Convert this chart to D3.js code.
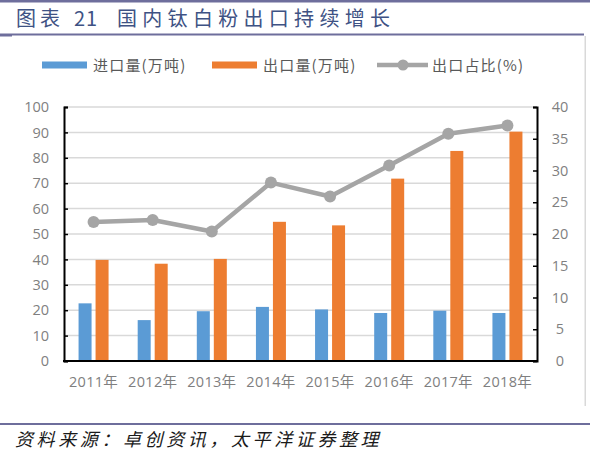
<!DOCTYPE html>
<html><head><meta charset="utf-8">
<script src="https://cdn.jsdelivr.net/npm/d3@7/dist/d3.min.js"></script>
<style>
html,body{margin:0;padding:0;background:#fff;}
svg{display:block;}
</style></head>
<body>
<svg id="c" width="594" height="453"></svg>
<script>
const categories = ["2011年","2012年","2013年","2014年","2015年","2016年","2017年","2018年"];
const importVol = [22.7,16.1,19.6,21.3,20.3,18.9,19.8,18.9];
const exportVol = [39.8,38.3,40.2,54.8,53.4,71.8,82.7,90.3];
const exportShare = [21.9,22.2,20.4,28.1,25.9,30.8,35.8,37.1];
const leftTicks = [0,10,20,30,40,50,60,70,80,90,100];
const rightTicks = [0,5,10,15,20,25,30,35,40];
const seriesNames = ["进口量(万吨)","出口量(万吨)","出口占比(%)"];
const titleParts = ["图表","21","国内钛白粉出口持续增长"];
const sourceText = "资料来源：卓创资讯，太平洋证券整理";

const svg = d3.select("#c");
const frame = "#6e6e9c";
const m = {l:64, r:537, t:107, b:361};

// frame lines
svg.append("rect").attr("x",0).attr("y",0).attr("width",590).attr("height",2.5).attr("fill",frame);
svg.append("rect").attr("x",0).attr("y",33.5).attr("width",584).attr("height",2).attr("fill",frame);
svg.append("rect").attr("x",0).attr("y",35).attr("width",12).attr("height",1.5).attr("fill",frame);
svg.append("rect").attr("x",584.5).attr("y",36).attr("width",1.5).attr("height",370).attr("fill","#d9d9d9");
svg.append("rect").attr("x",0).attr("y",423).attr("width",590).attr("height",2).attr("fill",frame);

const tg = svg.append("text").attr("y",25.5).attr("font-family","'Noto Sans CJK SC'")
  .attr("font-size",20).attr("fill","#3e5284").attr("letter-spacing",5.3);
tg.append("tspan").attr("x",16).attr("letter-spacing",4).text(titleParts[0]);
tg.append("tspan").attr("x",74).attr("letter-spacing",1).text(titleParts[1]);
tg.append("tspan").attr("x",117).text(titleParts[2]);

svg.append("text").attr("x",15).attr("y",446).attr("font-family","'Noto Sans CJK SC'")
  .attr("font-size",18).attr("font-style","italic").attr("letter-spacing",3.6)
  .attr("fill","#1a1a1a").text(sourceText);

const x = d3.scaleBand().domain(categories).range([m.l,m.r]).paddingInner(0).paddingOuter(0);
const yL = d3.scaleLinear().domain([0,100]).range([m.b,m.t]);
const yR = d3.scaleLinear().domain([0,40]).range([m.b,m.t]);

// grid
svg.append("g").selectAll("line").data(leftTicks.filter(d=>d>0)).join("line")
  .attr("x1",m.l).attr("x2",m.r).attr("y1",d=>yL(d)).attr("y2",d=>yL(d))
  .attr("stroke","#d9d9d9").attr("stroke-width",1.5);

const bw = 13, gap = 4;
svg.append("g").selectAll("rect").data(categories).join("rect")
  .attr("x",d=>x(d)+x.bandwidth()/2 - gap/2 - bw).attr("width",bw)
  .attr("y",(d,i)=>yL(importVol[i])).attr("height",(d,i)=>yL(0)-yL(importVol[i]))
  .attr("fill","#5b9bd5");
svg.append("g").selectAll("rect").data(categories).join("rect")
  .attr("x",d=>x(d)+x.bandwidth()/2 + gap/2).attr("width",bw)
  .attr("y",(d,i)=>yL(exportVol[i])).attr("height",(d,i)=>yL(0)-yL(exportVol[i]))
  .attr("fill","#ed7d31");

// axes
const axL = svg.append("g").attr("transform",`translate(${m.l},0)`)
  .call(d3.axisLeft(yL).tickValues(leftTicks).tickSize(-4).tickPadding(15));
const axR = svg.append("g").attr("transform",`translate(${m.r},0)`)
  .call(d3.axisRight(yR).tickValues(rightTicks).tickSize(-4).tickPadding(16));
const axB = svg.append("g").attr("transform",`translate(0,${m.b})`)
  .call(d3.axisBottom(x).tickSize(0).tickPadding(16));
[axL,axR,axB].forEach(a=>{
  a.select(".domain").attr("stroke","#000").attr("stroke-width",2);
  a.selectAll(".tick line").attr("stroke","#000").attr("stroke-width",1.5);
  a.selectAll("text").attr("font-family","'Open Sans','Noto Sans CJK SC',sans-serif")
    .attr("font-size",14.5).attr("fill","#7f7f7f");
});
axB.selectAll("text").attr("font-size",14.5).attr("letter-spacing",0.3);
axR.selectAll("text").attr("text-anchor","middle").attr("dx",7);
axB.select(".domain").attr("d",`M${m.l-1},0H${m.r+1}`);

// line
const line = d3.line().x((d,i)=>x(categories[i])+x.bandwidth()/2).y(d=>yR(d));
svg.append("path").datum(exportShare).attr("d",line).attr("fill","none")
  .attr("stroke","#a5a5a5").attr("stroke-width",4.5).attr("stroke-linejoin","round");
svg.append("g").selectAll("circle").data(exportShare).join("circle")
  .attr("cx",(d,i)=>x(categories[i])+x.bandwidth()/2).attr("cy",d=>yR(d)).attr("r",6)
  .attr("fill","#a5a5a5");

// legend
const lg = svg.append("g");
const ly = 65;
lg.append("rect").attr("x",42).attr("y",ly-3.5).attr("width",45).attr("height",7).attr("fill","#5b9bd5");
lg.append("rect").attr("x",212).attr("y",ly-3.5).attr("width",45).attr("height",7).attr("fill","#ed7d31");
lg.append("line").attr("x1",377).attr("x2",428).attr("y1",ly).attr("y2",ly).attr("stroke","#a5a5a5").attr("stroke-width",4.5);
lg.append("circle").attr("cx",403).attr("cy",ly).attr("r",5.5).attr("fill","#a5a5a5");
[[93,seriesNames[0]],[263,seriesNames[1]],[432,seriesNames[2]]].forEach(([lx,t])=>{
  lg.append("text").attr("x",lx).attr("y",ly+5.5).attr("font-family","'Noto Sans CJK SC'")
    .attr("font-size",15).attr("letter-spacing",1.2).attr("fill","#595959").text(t);
});
</script>
</body></html>
